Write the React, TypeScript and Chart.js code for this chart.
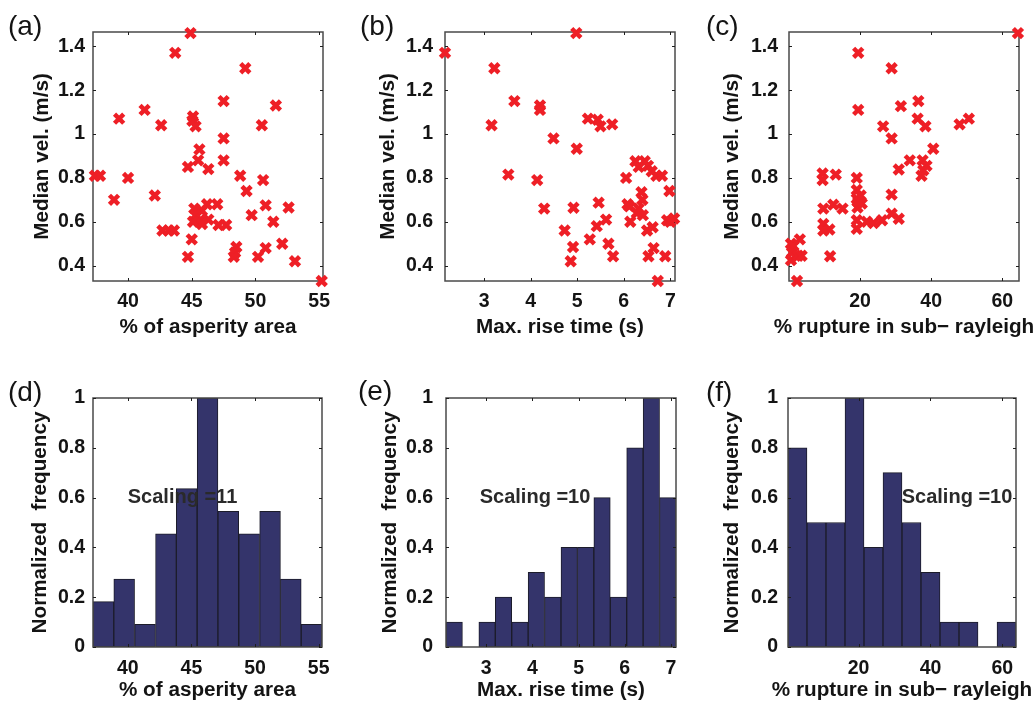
import React, { useEffect, useRef } from 'react';
import { Chart, registerables } from 'chart.js';

Chart.register(...registerables);

const FONT = "'Liberation Sans', Arial, Helvetica, sans-serif";
const RED = '#ee1f26';
const NAVY = '#34346b';
const TEXT = '#141414';
const TITLE_SIZE = 20.7;

// ---------- data ----------
// (a) % of asperity area vs median velocity
const asperityX = [44.9, 43.7, 49.2, 41.3, 39.3, 42.6, 47.5, 51.6, 45.1, 45.05, 45.3, 50.5, 47.5, 45.6, 45.5, 47.5, 44.7, 46.3, 37.4, 37.8, 40.0, 48.8, 50.6, 49.3, 42.1, 38.9, 47.0, 46.2, 50.8, 52.6, 45.2, 45.8, 49.7, 45.3, 45.7, 46.3, 45.1, 51.4, 45.8, 47.1, 47.7, 42.7, 43.2, 43.6, 45.0, 52.1, 48.5, 50.8, 48.4, 44.7, 48.3, 50.2, 53.1, 55.2];
const asperityVel = [1.46, 1.37, 1.30, 1.11, 1.07, 1.04, 1.15, 1.13, 1.08, 1.06, 1.035, 1.04, 0.98, 0.93, 0.88, 0.88, 0.85, 0.84, 0.81, 0.81, 0.80, 0.81, 0.79, 0.74, 0.72, 0.70, 0.68, 0.68, 0.675, 0.665, 0.66, 0.65, 0.63, 0.63, 0.61, 0.61, 0.60, 0.60, 0.59, 0.585, 0.585, 0.56, 0.56, 0.56, 0.52, 0.50, 0.485, 0.48, 0.46, 0.44, 0.44, 0.44, 0.42, 0.33];

// (b) max rise time vs median velocity
const riseX = [2.16, 4.98, 3.22, 3.65, 4.2, 4.2, 3.16, 5.23, 5.44, 5.5, 5.75, 4.49, 4.99, 3.52, 4.14, 4.29, 6.05, 6.25, 6.32, 6.45, 6.52, 6.6, 6.7, 6.82, 5.46, 4.92, 6.08, 6.12, 6.38, 6.4, 6.32, 6.41, 6.28, 6.14, 5.62, 5.42, 4.73, 6.98, 6.93, 7.08, 7.0, 6.5, 6.62, 5.27, 5.67, 4.91, 5.77, 4.86, 6.64, 6.53, 6.89, 6.73];
const riseVel = [1.37, 1.46, 1.30, 1.15, 1.13, 1.11, 1.04, 1.07, 1.065, 1.035, 1.044, 0.98, 0.933, 0.815, 0.79, 0.66, 0.80, 0.876, 0.85, 0.876, 0.855, 0.83, 0.81, 0.81, 0.687, 0.664, 0.68, 0.67, 0.735, 0.70, 0.66, 0.63, 0.64, 0.60, 0.61, 0.58, 0.56, 0.74, 0.607, 0.615, 0.60, 0.56, 0.575, 0.52, 0.50, 0.485, 0.443, 0.42, 0.48, 0.443, 0.443, 0.33];

// (c) % rupture in sub-rayleigh vs median velocity
const subRayX = [64.4, 19.5, 28.9, 19.5, 36.4, 31.5, 26.5, 36.2, 38.4, 28.9, 48.0, 50.6, 40.6, 34.0, 37.6, 38.7, 37.8, 37.3, 30.9, 9.5, 9.5, 13.2, 19.1, 28.9, 19.1, 19.1, 20.5, 19.3, 9.7, 12.5, 15.1, 28.9, 30.9, 19.1, 21.9, 23.8, 26.2, 9.7, 11.4, 9.7, 19.1, 0.6, 1.3, 0.9, 0.6, 3.1, 2.6, 3.6, 11.6, 2.3, 19.5, 20.2];
const subRayVel = [1.46, 1.37, 1.30, 1.11, 1.15, 1.127, 1.035, 1.07, 1.035, 0.98, 1.044, 1.07, 0.933, 0.88, 0.88, 0.855, 0.835, 0.81, 0.838, 0.82, 0.79, 0.815, 0.80, 0.724, 0.745, 0.705, 0.683, 0.665, 0.66, 0.678, 0.66, 0.637, 0.614, 0.607, 0.60, 0.594, 0.607, 0.59, 0.565, 0.56, 0.568, 0.50, 0.49, 0.46, 0.425, 0.52, 0.445, 0.445, 0.443, 0.33, 0.69, 0.72];

// histograms (bin centres and normalized frequency)
const asperityBins = [38.09, 39.72, 41.36, 43.0, 44.63, 46.27, 47.9, 49.54, 51.18, 52.81, 54.44];
const asperityFreq = [0.182, 0.273, 0.091, 0.455, 0.636, 1.0, 0.545, 0.455, 0.545, 0.273, 0.091];
const riseBins = [2.308, 2.664, 3.019, 3.375, 3.731, 4.086, 4.442, 4.798, 5.153, 5.509, 5.865, 6.22, 6.576, 6.932];
const riseFreq = [0.1, 0, 0.1, 0.2, 0.1, 0.3, 0.2, 0.4, 0.4, 0.6, 0.2, 0.8, 1.0, 0.6];
const subRayBins = [2.99, 8.28, 13.57, 18.86, 24.15, 29.43, 34.72, 40.01, 45.3, 50.59, 55.88, 61.16];
const subRayFreq = [0.8, 0.5, 0.5, 1.0, 0.4, 0.7, 0.5, 0.3, 0.1, 0.1, 0, 0.1];

// ticks
const asperityTicks = [40, 45, 50, 55];
const riseTicks = [3, 4, 5, 6, 7];
const subRayTicks = [20, 40, 60];
const velTicks = [0.4, 0.6, 0.8, 1, 1.2, 1.4];
const freqTicks = [0, 0.2, 0.4, 0.6, 0.8, 1];

// labels
const velTitle = 'Median vel. (m/s)';
const freqTitle = 'Normalized  frequency';
const asperityTitle = '% of asperity area';
const riseTitle = 'Max. rise time (s)';
const subRayTitle = '% rupture in sub\u2212 rayleigh';
const scalingNotes = ['Scaling =11', 'Scaling =10', 'Scaling =10'];

// ---------- plugins ----------
const framePlugin = {
  id: 'matFrame',
  drawFrame(chart: any) {
    const { ctx, chartArea: a, scales } = chart;
    ctx.save();
    ctx.strokeStyle = '#4a4a4a';
    ctx.lineWidth = 1.5;
    ctx.strokeRect(a.left, a.top, a.right - a.left, a.bottom - a.top);
    ctx.strokeStyle = '#1e1e1e';
    ctx.lineWidth = 1;
    const L = 3;
    ctx.beginPath();
    scales.x.ticks.forEach((t: any) => {
      const px = Math.round(scales.x.getPixelForValue(t.value)) + 0.5;
      ctx.moveTo(px, a.bottom);
      ctx.lineTo(px, a.bottom - L);
      ctx.moveTo(px, a.top);
      ctx.lineTo(px, a.top + L);
    });
    scales.y.ticks.forEach((t: any) => {
      const py = Math.round(scales.y.getPixelForValue(t.value)) + 0.5;
      ctx.moveTo(a.left, py);
      ctx.lineTo(a.left + L, py);
      ctx.moveTo(a.right, py);
      ctx.lineTo(a.right - L, py);
    });
    ctx.stroke();
    ctx.restore();
  },
  beforeDatasetsDraw(chart: any, _args: any, opts: any) {
    if (!opts.onTop) (framePlugin as any).drawFrame(chart);
  },
  afterDatasetsDraw(chart: any, _args: any, opts: any) {
    if (opts.onTop) (framePlugin as any).drawFrame(chart);
    const { ctx, scales, chartArea: a } = chart;
    if (opts.note) {
      ctx.save();
      ctx.font = `bold 20px ${FONT}`;
      ctx.fillStyle = '#2a2a2a';
      ctx.textAlign = 'left';
      ctx.textBaseline = 'middle';
      ctx.fillText(opts.note.text, scales.x.getPixelForValue(opts.note.x), scales.y.getPixelForValue(opts.note.y));
      ctx.restore();
    }
    if (opts.xTitle) {
      // x-axis title drawn without width compression (it overhangs the axis like the original)
      ctx.save();
      ctx.font = `bold ${TITLE_SIZE}px ${FONT}`;
      ctx.fillStyle = TEXT;
      ctx.textAlign = 'center';
      ctx.textBaseline = 'middle';
      ctx.fillText(opts.xTitle, (a.left + a.right) / 2, chart.height - (TITLE_SIZE * 1.2) / 2 - opts.xTitlePad);
      ctx.restore();
    }
  },
};

// ---------- panel specs ----------
type Geo = {
  left: number; top: number; w: number; h: number;
  aL: number; aR: number; aT: number; aB: number;
  yTitlePad: number; yTickPad: number; xTickPad: number; xTitlePad: number;
};

type Spec = {
  kind: 'scatter' | 'hist';
  geo: Geo;
  xs: number[]; ys: number[];
  xMin: number; xMax: number; yMin: number; yMax: number;
  xTicks: number[]; yTicks: number[];
  xTitle: string; yTitle: string;
  note?: { text: string; x: number; y: number };
};

const fmt = (v: number) => String(+Number(v).toFixed(3));

function buildConfig(s: Spec): any {
  const g = s.geo;
  const tickFont = { family: FONT, size: 19.5, weight: 'bold' as const };
  const titleFont = { family: FONT, size: TITLE_SIZE, weight: 'bold' as const };
  const points = s.xs.map((x, i) => ({ x, y: s.ys[i] }));
  const dataset: any =
    s.kind === 'scatter'
      ? {
          data: points,
          pointStyle: 'crossRot',
          pointRadius: 6.5,
          pointHoverRadius: 6.5,
          pointBorderWidth: 4.5,
          borderColor: RED,
          backgroundColor: RED,
          clip: false,
        }
      : {
          data: points,
          backgroundColor: NAVY,
          borderColor: '#1c1c2a',
          borderWidth: 1,
          borderSkipped: false,
          barPercentage: 1,
          categoryPercentage: 1,
        };
  return {
    type: s.kind === 'scatter' ? 'scatter' : 'bar',
    data: { datasets: [dataset] },
    plugins: [framePlugin],
    options: {
      animation: false,
      responsive: false,
      events: [],
      layout: { padding: { left: 0, top: g.aT, right: g.w - g.aR, bottom: 0 } },
      plugins: {
        legend: { display: false },
        tooltip: { enabled: false },
        matFrame: { onTop: s.kind === 'hist', note: s.note, xTitle: s.xTitle, xTitlePad: g.xTitlePad },
      },
      scales: {
        x: {
          type: 'linear',
          min: s.xMin,
          max: s.xMax,
          offset: false,
          afterBuildTicks: (sc: any) => { sc.ticks = s.xTicks.map((v) => ({ value: v })); },
          afterFit: (sc: any) => { sc.height = g.h - g.aB; },
          grid: { display: false, drawTicks: false },
          border: { display: false },
          ticks: { font: tickFont, color: TEXT, padding: g.xTickPad, maxRotation: 0, autoSkip: false, callback: (v: any) => fmt(v) },
          title: { display: false },
        },
        y: {
          type: 'linear',
          min: s.yMin,
          max: s.yMax,
          afterBuildTicks: (sc: any) => { sc.ticks = s.yTicks.map((v) => ({ value: v })); },
          afterFit: (sc: any) => { sc.width = g.aL; },
          grid: { display: false, drawTicks: false },
          border: { display: false },
          ticks: { font: tickFont, color: TEXT, padding: g.yTickPad, autoSkip: false, callback: (v: any) => fmt(v) },
          title: { display: true, text: s.yTitle, font: titleFont, color: TEXT, padding: { top: g.yTitlePad, bottom: 0 } },
        },
      },
    },
  };
}

const specs: Spec[] = [
  {
    kind: 'scatter',
    geo: { left: 0, top: 0, w: 345, h: 340, aL: 93, aR: 323, aT: 32, aB: 281, yTitlePad: 29.5, yTickPad: 8, xTickPad: 9, xTitlePad: 0 },
    xs: asperityX, ys: asperityVel, xMin: 37.25, xMax: 55.3, yMin: 0.33, yMax: 1.465,
    xTicks: asperityTicks, yTicks: velTicks, xTitle: asperityTitle, yTitle: velTitle,
  },
  {
    kind: 'scatter',
    geo: { left: 345, top: 0, w: 345, h: 340, aL: 100, aR: 330, aT: 32, aB: 281, yTitlePad: 30.5, yTickPad: 12, xTickPad: 9, xTitlePad: 0 },
    xs: riseX, ys: riseVel, xMin: 2.16, xMax: 7.1, yMin: 0.33, yMax: 1.465,
    xTicks: riseTicks, yTicks: velTicks, xTitle: riseTitle, yTitle: velTitle,
  },
  {
    kind: 'scatter',
    geo: { left: 690, top: 0, w: 344, h: 340, aL: 99, aR: 329, aT: 32, aB: 281, yTitlePad: 29.5, yTickPad: 11, xTickPad: 9, xTitlePad: 0 },
    xs: subRayX, ys: subRayVel, xMin: 0.05, xMax: 64.7, yMin: 0.33, yMax: 1.465,
    xTicks: subRayTicks, yTicks: velTicks, xTitle: subRayTitle, yTitle: velTitle,
  },
  {
    kind: 'hist',
    geo: { left: 0, top: 340, w: 345, h: 367, aL: 93, aR: 322, aT: 58, aB: 307, yTitlePad: 27.5, yTickPad: 8, xTickPad: 10, xTitlePad: 4 },
    xs: asperityBins, ys: asperityFreq, xMin: 37.27, xMax: 55.26, yMin: 0, yMax: 1,
    xTicks: asperityTicks, yTicks: freqTicks, xTitle: asperityTitle, yTitle: freqTitle,
    note: { text: scalingNotes[0], x: 40, y: 0.6 },
  },
  {
    kind: 'hist',
    geo: { left: 345, top: 340, w: 345, h: 367, aL: 101, aR: 331, aT: 58, aB: 307, yTitlePad: 32.5, yTickPad: 13, xTickPad: 10, xTitlePad: 4 },
    xs: riseBins, ys: riseFreq, xMin: 2.13, xMax: 7.11, yMin: 0, yMax: 1,
    xTicks: riseTicks, yTicks: freqTicks, xTitle: riseTitle, yTitle: freqTitle,
    note: { text: scalingNotes[1], x: 2.86, y: 0.6 },
  },
  {
    kind: 'hist',
    geo: { left: 690, top: 340, w: 344, h: 367, aL: 98, aR: 326, aT: 58, aB: 307, yTitlePad: 29.5, yTickPad: 10, xTickPad: 10, xTitlePad: 4 },
    xs: subRayBins, ys: subRayFreq, xMin: 0.35, xMax: 63.8, yMin: 0, yMax: 1,
    xTicks: subRayTicks, yTicks: freqTicks, xTitle: subRayTitle, yTitle: freqTitle,
    note: { text: scalingNotes[2], x: 32, y: 0.6 },
  },
];

const panelLabels = [
  { text: '(a)', left: 8, top: 12 },
  { text: '(b)', left: 360, top: 12 },
  { text: '(c)', left: 706, top: 12 },
  { text: '(d)', left: 8, top: 378 },
  { text: '(e)', left: 358, top: 377 },
  { text: '(f)', left: 706, top: 378 },
];

function Panel({ spec }: { spec: Spec }) {
  const ref = useRef<HTMLCanvasElement>(null);
  useEffect(() => {
    if (!ref.current) return;
    const chart = new Chart(ref.current, buildConfig(spec));
    return () => chart.destroy();
  }, [spec]);
  const g = spec.geo;
  return (
    <canvas
      ref={ref}
      width={g.w}
      height={g.h}
      style={{ position: 'absolute', left: g.left, top: g.top, width: g.w, height: g.h, display: 'block' }}
    />
  );
}

export default function App() {
  return (
    <div style={{ position: 'absolute', left: 0, top: 0, width: 1034, height: 707, background: '#fff', overflow: 'hidden' }}>
      {specs.map((s, i) => (
        <Panel key={i} spec={s} />
      ))}
      {panelLabels.map((l) => (
        <div
          key={l.text}
          style={{ position: 'absolute', left: l.left, top: l.top, fontFamily: FONT, fontSize: 28, lineHeight: 1, color: TEXT }}
        >
          {l.text}
        </div>
      ))}
    </div>
  );
}
